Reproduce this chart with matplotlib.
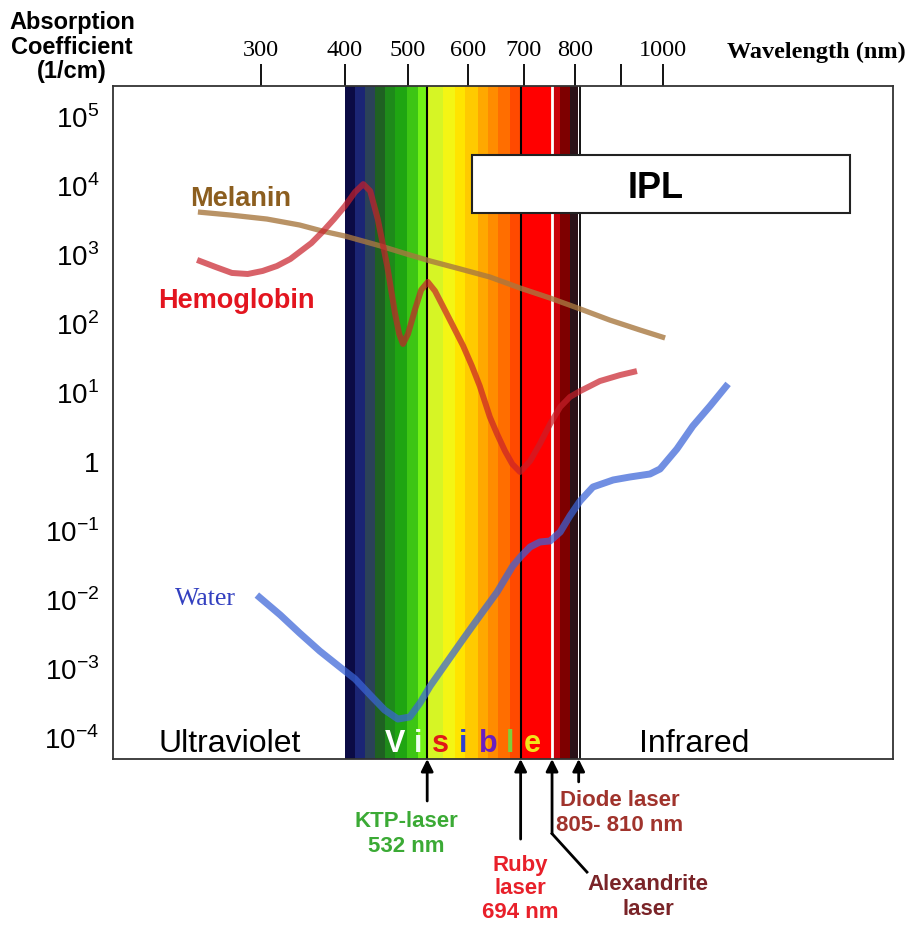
import numpy as np
import matplotlib.pyplot as plt
from matplotlib.patches import Rectangle

plt.rcParams['font.family'] = 'Liberation Sans'
plt.rcParams['mathtext.fontset'] = 'custom'
plt.rcParams['mathtext.rm'] = 'Liberation Sans'

# absorption curves, wavelength (nm) vs absorption coefficient (1/cm)
hb_nm = [223, 245, 265, 284, 302, 319, 335, 346, 360, 373, 387, 400, 416, 429, 440,
         452, 467, 479, 486, 492, 500, 512, 522, 533, 545, 558, 575, 592, 607, 621,
         639, 652, 666, 679, 693, 712, 731, 751, 771, 790, 811, 854, 898, 938]
hb_val = [820, 650, 531, 513, 568, 670, 847, 1070, 1440, 2080, 3210, 4960, 7920, 10300, 8180,
          3210, 670, 144, 69.3, 49.7, 69.3, 160, 301, 393, 291, 176, 90.6, 46.4, 23.8, 12.2,
          4.35, 2.46, 1.40, 0.906, 0.693, 1.0, 1.76, 3.43, 6.07, 8.47, 10.3, 14.4, 17.6, 20.1]

mel_nm = [224, 263, 307, 346, 373, 400, 456, 503, 537, 587, 639, 693, 751, 811, 876, 945, 1005]
mel_val = [4060, 3670, 3210, 2630, 2150, 1820, 1310, 968, 792, 607, 464, 321, 230, 160, 110, 79.2, 60.7]

water_nm = [295, 323, 346, 370, 394, 416, 440, 463, 484, 503, 520, 537, 565, 592, 621,
            652, 680, 695, 712, 731, 751, 771, 790, 811, 839, 883, 921, 969, 993, 1033,
            1071, 1112, 1155]
water_val = [0.0114, 0.00586, 0.00321, 0.00176, 0.00103, 0.000693, 0.000406, 0.000246,
             0.000182, 0.000195, 0.000311, 0.000548, 0.00122, 0.00263, 0.00568, 0.0126,
             0.0301, 0.0420, 0.0568, 0.0670, 0.0693, 0.0935, 0.160, 0.263, 0.420, 0.531,
             0.586, 0.648, 0.766, 1.49, 3.21, 6.27, 13.1]

# visible spectrum bands (nm edges)
band_edges = [400, 416, 432, 448, 463, 479, 498, 517, 532, 558, 578, 595, 618, 636,
              654, 675, 694, 755, 771, 790, 806]
band_colors = ['#0b0b45', '#1b2575', '#2b4258', '#1f6122', '#1e8a1a', '#1fa512',
               '#3dc514', '#72f016', '#d6f525', '#f4f514', '#ffe400', '#ffca00',
               '#ffa800', '#ff8c00', '#ff6e00', '#ff4a00', '#ff0000', '#c8000a',
               '#7e0000', '#2a1218']

# lasers
ktp_nm, ruby_nm, alex_nm, diode_nm = 532, 694, 755, 808

x_ticks = [300, 400, 500, 600, 700, 800, 900, 1000]
x_ticklabels = ['300', '400', '500', '600', '700', '800', '', '1000']
y_ticks = [1e-4, 1e-3, 1e-2, 1e-1, 1, 10, 1e2, 1e3, 1e4, 1e5]
y_ticklabels = ['$10^{-4}$', '$10^{-3}$', '$10^{-2}$', '$10^{-1}$', '1',
                '$10^{1}$', '$10^{2}$', '$10^{3}$', '$10^{4}$', '$10^{5}$']

# wavelength axis of the original figure is stretched unevenly
nm_anchor = [100, 300, 400, 500, 600, 700, 800, 900, 1000, 1600]
pos_anchor = [95, 261, 345, 408, 468, 524, 575, 621, 663, 915]


def fwd(w):
    return np.interp(w, nm_anchor, pos_anchor)


def inv(p):
    return np.interp(p, pos_anchor, nm_anchor)


fig = plt.figure(figsize=(9.15, 9.28), dpi=100)
ax = fig.add_axes([113 / 915, 1 - 760 / 928, 780 / 915, 673 / 928])
ax.set_xscale('function', functions=(fwd, inv))
ax.set_yscale('log')
ax.set_xlim(121.7, 1547.6)
ax.set_ylim(4.8e-5, 2.72e5)

for lo, hi, c in zip(band_edges[:-1], band_edges[1:], band_colors):
    ax.axvspan(lo, hi, color=c, lw=0, zorder=0)

ax.axvline(ktp_nm, color='black', lw=1.5, zorder=1)
ax.axvline(ruby_nm, color='black', lw=1.5, zorder=1)
ax.axvline(alex_nm, color='white', lw=2, zorder=1)
ax.axvline(diode_nm + 2, color='black', lw=1.3, zorder=1)

ax.plot(mel_nm, mel_val, color='#a87840', lw=3.8, alpha=0.8, zorder=4,
        solid_capstyle='butt', solid_joinstyle='round')
ax.plot(hb_nm, hb_val, color='#c8202a', lw=4.3, alpha=0.7, zorder=4,
        solid_capstyle='butt', solid_joinstyle='round')
ax.plot(water_nm, water_val, color='#3a64d8', lw=5, alpha=0.72, zorder=4,
        solid_capstyle='butt', solid_joinstyle='round')

# IPL box
ax.add_patch(Rectangle((0.460, 0.811), 0.485, 0.086, transform=ax.transAxes,
                       facecolor='white', edgecolor='#222222', lw=1.5, zorder=3))
ax.text(0.696, 0.835, 'IPL', transform=ax.transAxes, ha='center', va='baseline',
        fontsize=26, fontweight='bold', zorder=5)

# curve labels
ax.text(0.164, 0.823, 'Melanin', transform=ax.transAxes, ha='center', va='baseline',
        fontsize=19.5, fontweight='bold', color='#8c5e1f')
ax.text(0.158, 0.672, 'Hemoglobin', transform=ax.transAxes, ha='center', va='baseline',
        fontsize=19.5, fontweight='bold', color='#e3151f')
ax.text(0.118, 0.230, 'Water', transform=ax.transAxes, ha='center', va='baseline',
        fontsize=18.5, family='Liberation Serif', color='#3340c0')
ax.text(0.149, 0.012, 'Ultraviolet', transform=ax.transAxes, ha='center', va='baseline',
        fontsize=23)
ax.text(0.745, 0.012, 'Infrared', transform=ax.transAxes, ha='center', va='baseline',
        fontsize=23)

vis_letters = ['V', 'i', 's', 'i', 'b', 'l', 'e']
vis_colors = ['#ffffff', '#f0fff0', '#e01818', '#2f3fd0', '#6a1fc0', '#7fd03a', '#f2e51a']
vis_x = [0.3615, 0.3910, 0.4192, 0.4487, 0.4808, 0.5090, 0.5372]
for ch, c, xx in zip(vis_letters, vis_colors, vis_x):
    ax.text(xx, 0.012, ch, transform=ax.transAxes, ha='center', va='baseline',
            fontsize=22, fontweight='bold', color=c, zorder=5)

# laser arrows below the axis
trans = ax.get_xaxis_transform()
for wl, y0 in [(ktp_nm, -0.0624), (ruby_nm, -0.119), (alex_nm, -0.111), (diode_nm, -0.034)]:
    ax.annotate('', xy=(wl, 0), xycoords=trans, xytext=(wl, y0), textcoords=trans,
                arrowprops=dict(arrowstyle='-|>', color='black', lw=2, mutation_scale=18,
                                shrinkA=0, shrinkB=0),
                annotation_clip=False)
ax.plot([alex_nm, 826], [-0.111, -0.168], transform=trans, color='black', lw=2, clip_on=False)

fig.text(406 / 915, 1 - 834 / 928, 'KTP-laser\n532 nm', ha='center', va='center',
         fontsize=16, fontweight='bold', color='#3baa35', linespacing=1.3)
fig.text(520 / 915, 1 - 889 / 928, 'Ruby\nlaser\n694 nm', ha='center', va='center',
         fontsize=16, fontweight='bold', color='#e8202a', linespacing=1.15)
fig.text(648 / 915, 1 - 897 / 928, 'Alexandrite\nlaser', ha='center', va='center',
         fontsize=16, fontweight='bold', color='#7a2428', linespacing=1.2)
fig.text(620 / 915, 1 - 813 / 928, 'Diode laser\n805- 810 nm', ha='center', va='center',
         fontsize=16, fontweight='bold', color='#a0332c', linespacing=1.3)

# axes styling
ax.xaxis.set_ticks_position('top')
ax.set_xticks(x_ticks)
ax.set_xticklabels(x_ticklabels, family='Liberation Serif', fontsize=17.5)
ax.xaxis.set_minor_locator(plt.NullLocator())
ax.tick_params(axis='x', direction='out', length=16, width=1.3, pad=3)
ax.set_yticks(y_ticks)
ax.set_yticklabels(y_ticklabels, fontsize=20)
ax.yaxis.set_minor_locator(plt.NullLocator())
ax.tick_params(axis='y', length=0, pad=10)
for s in ax.spines.values():
    s.set_linewidth(1.3)
    s.set_color('#333333')
    s.set_zorder(6)

fig.text(72 / 915, 1 - 47 / 928, 'Absorption\nCoefficient\n(1/cm)', ha='center', va='center',
         fontsize=17, fontweight='bold', linespacing=1.1)
fig.text(816 / 915, 1 - 58 / 928, 'Wavelength (nm)', ha='center', va='baseline',
         fontsize=17.5, fontweight='bold', family='Liberation Serif')

fig.savefig('out.png', dpi=100)
